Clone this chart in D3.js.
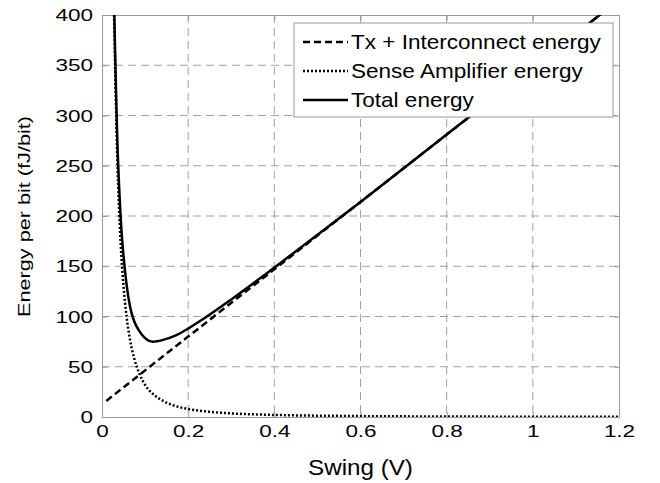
<!DOCTYPE html>
<meta charset="utf-8">
<style>
body { margin: 0; background: #fff; }
text { font-family: Arial, "Liberation Sans", sans-serif; fill: #000; }
</style>
<div id="viz"></div>
<script src="https://cdn.jsdelivr.net/npm/d3@7"></script>
<script>
// swing (V) sample points and readings in fJ/bit
var swing  = [0.028, 0.032, 0.035, 0.04, 0.045, 0.05, 0.057, 0.065, 0.075, 0.086, 0.1, 0.118, 0.14, 0.17, 0.2, 0.24, 0.3, 0.37, 0.45, 0.53, 0.6, 0.8, 1.0, 1.2];
var senseAmp = [400, 318, 265, 203, 160, 130, 100, 77, 58, 44, 32, 23, 16.5, 11, 8, 5.6, 3.6, 2.4, 1.6, 1.2, 0.9, 0.5, 0.3, 0.2];
var total  = [412, 334, 283, 227, 187, 160, 132, 110, 95, 86, 78.5, 75, 76.5, 81, 88, 99, 117, 139, 165, 191, 214, 281, 348, 415];
var txSwing = [0.01, 0.2, 0.4, 0.6, 0.8, 1.0, 1.2];
var txEnergy = [16, 80, 147, 214, 281, 348, 415];
var xTicks = [0, 0.2, 0.4, 0.6, 0.8, 1, 1.2];
var yTicks = [0, 50, 100, 150, 200, 250, 300, 350, 400];
var legendLabels = ["Tx + Interconnect energy", "Sense Amplifier energy", "Total energy"];

var margin = {top: 15, right: 41, bottom: 66, left: 102};
var W = 660, H = 483;
var width = W - margin.left - margin.right;
var height = H - margin.top - margin.bottom;

var svg = d3.select("#viz").append("svg")
    .attr("width", W).attr("height", H)
  .append("g")
    .attr("transform", "translate(" + margin.left + "," + margin.top + ")");

var x = d3.scaleLinear().domain([0, 1.2]).range([0, width]);
var y = d3.scaleLinear().domain([0, 400]).range([height, 0]);

// the original lettering is wider than Arial, so stretch it a bit
function widen(sel, s) {
  sel.each(function() {
    var t = d3.select(this);
    var tx = +t.attr("x") || 0, ty = +t.attr("y") || 0;
    t.attr("x", 0).attr("y", 0)
     .attr("transform", "translate(" + tx + "," + ty + ") scale(" + s + ",1)");
  });
}

svg.append("defs").append("clipPath").attr("id", "clip")
  .append("rect").attr("width", width).attr("height", height);

// grid
svg.append("g").selectAll("line").data(xTicks.slice(1, -1)).enter().append("line")
    .attr("x1", d => x(d)).attr("x2", d => x(d)).attr("y1", 0).attr("y2", height)
    .attr("stroke", "#a0a0a0").attr("stroke-width", 1).attr("stroke-dasharray", "8,5");
svg.append("g").selectAll("line").data(yTicks.slice(1, -1)).enter().append("line")
    .attr("y1", d => y(d)).attr("y2", d => y(d)).attr("x1", 0).attr("x2", width)
    .attr("stroke", "#a0a0a0").attr("stroke-width", 1).attr("stroke-dasharray", "8,5");

// axes
var xAx = svg.append("g").attr("transform", "translate(0," + height + ")")
    .call(d3.axisBottom(x).tickValues(xTicks).tickFormat(d3.format("")).tickSize(-5).tickPadding(8));
var yAx = svg.append("g")
    .call(d3.axisLeft(y).tickValues(yTicks).tickSize(-5).tickPadding(9));
svg.append("g").attr("transform", "translate(" + width + ",0)")
    .call(d3.axisRight(y).tickValues(yTicks).tickSize(-5).tickFormat(""));
svg.append("g")
    .call(d3.axisTop(x).tickValues(xTicks).tickSize(-5).tickFormat(""));
svg.selectAll(".domain, .tick line").attr("stroke", "#999");
svg.selectAll(".tick text").style("font-size", "17.3px").style("font-family", "Arial, 'Liberation Sans', sans-serif");
widen(xAx.selectAll(".tick text"), 1.3);
widen(yAx.selectAll(".tick text"), 1.3);

// curves
var line = d3.line().x(d => x(d[0])).y(d => y(d[1])).curve(d3.curveMonotoneX);
var plot = svg.append("g").attr("clip-path", "url(#clip)");
plot.append("path").datum(d3.zip(txSwing, txEnergy)).attr("d", line)
    .attr("fill", "none").attr("stroke", "#000").attr("stroke-width", 2.5).attr("stroke-dasharray", "7,4");
plot.append("path").datum(d3.zip(swing, senseAmp)).attr("d", line)
    .attr("fill", "none").attr("stroke", "#000").attr("stroke-width", 2.5).attr("stroke-dasharray", "2,2");
plot.append("path").datum(d3.zip(swing, total)).attr("d", line)
    .attr("fill", "none").attr("stroke", "#000").attr("stroke-width", 2.5);

// legend
var leg = svg.append("g").attr("transform", "translate(" + (294 - margin.left) + "," + (23 - margin.top) + ")");
leg.append("rect").attr("width", 319).attr("height", 94)
    .attr("fill", "#fff").attr("stroke", "#999");
var dashes = ["7,4", "2,2", null];
legendLabels.forEach(function(lbl, i) {
  var cy = 19 + i * 29;
  leg.append("line").attr("x1", 9).attr("x2", 54).attr("y1", cy).attr("y2", cy)
     .attr("stroke", "#000").attr("stroke-width", 2.5).attr("stroke-dasharray", dashes[i]);
  leg.append("text").attr("x", 57).attr("y", cy).attr("dy", "0.35em")
     .style("font-size", "20.5px").text(lbl)
     .call(widen, 1.1);
});

// labels
svg.append("text").attr("x", width / 2).attr("y", height + 58)
    .attr("text-anchor", "middle").style("font-size", "22px").text("Swing (V)")
    .call(widen, 1.1);
svg.append("text")
    .attr("transform", "translate(" + (30 - margin.left) + "," + (216.5 - margin.top) + ") rotate(-90) scale(1.33,1)")
    .attr("text-anchor", "middle").style("font-size", "16.3px").text("Energy per bit (fJ/bit)");
</script>
